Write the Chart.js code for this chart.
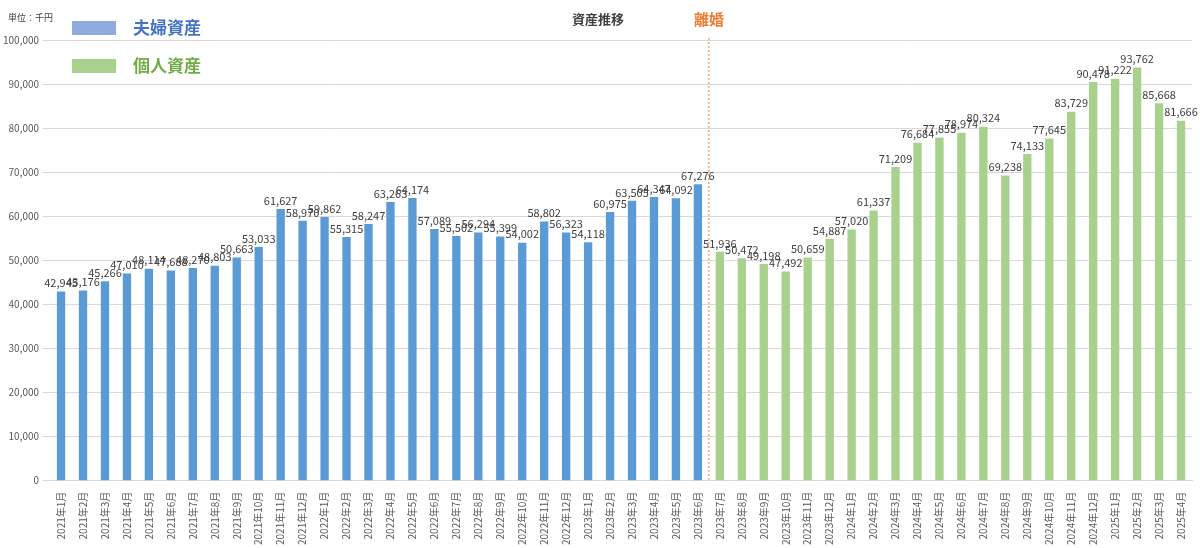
<!DOCTYPE html>
<html><head><meta charset="utf-8">
<script src="https://cdn.jsdelivr.net/npm/chart.js@4"></script>
<style>html,body{margin:0;background:#fff}#w{width:1200px;height:548px}</style>
</head><body><div id="w"><canvas id="c"></canvas></div>
<script>
const categories = [];
for (let y = 2021; y <= 2025; y++) for (let m = 1; m <= 12; m++) { if (y === 2025 && m > 4) break; categories.push(y + '年' + m + '月'); }
const coupleAssets = [42945,43176,45266,47010,48114,47688,48270,48803,50663,53033,61627,58970,59862,55315,58247,63263,64174,57089,55502,56294,55399,54002,58802,56323,54118,60975,63505,64347,64092,67276];
const personalAssets = [51936,50472,49198,47492,50659,54887,57020,61337,71209,76684,77855,78974,80324,69238,74133,77645,83729,90478,91222,93762,85668,81666];
const yTicks = [0,10000,20000,30000,40000,50000,60000,70000,80000,90000,100000];
const seriesNames = ['夫婦資産','個人資産'];
const colors = ['#5b9bd5','#a9d18e'];
const nCouple = coupleAssets.length;
const d1 = categories.map((_, i) => i < nCouple ? coupleAssets[i] : null);
const d2 = categories.map((_, i) => i >= nCouple ? personalAssets[i - nCouple] : null);
const font = "'Noto Sans CJK JP', 'Noto Sans', sans-serif";
const deco = {
  id: 'deco',
  afterDatasetsDraw(ch) {
    const c = ch.ctx, xs = ch.scales.x, a = ch.chartArea;
    c.save();
    c.font = '11px ' + font; c.fillStyle = '#404040'; c.textAlign = 'center'; c.textBaseline = 'bottom';
    ch.data.datasets.forEach((ds, di) => {
      ch.getDatasetMeta(di).data.forEach((el, i) => {
        const v = ds.data[i]; if (v == null) return;
        c.fillText(v.toLocaleString('en-US'), el.x, el.y - 3);
      });
    });
    const xd = (xs.getPixelForValue(nCouple - 1) + xs.getPixelForValue(nCouple)) / 2;
    c.strokeStyle = '#ed7d31'; c.setLineDash([2, 2]); c.lineWidth = 1;
    c.beginPath(); c.moveTo(xd, 38); c.lineTo(xd, a.bottom); c.stroke(); c.setLineDash([]);
    c.font = 'bold 15px ' + font; c.textBaseline = 'middle';
    c.fillStyle = '#ed7d31'; c.fillText('離婚', xd, 19);
    c.fillStyle = '#404040'; c.font = 'bold 13px ' + font; c.fillText('資産推移', 598, 19);
    c.font = '9px ' + font; c.textAlign = 'left'; c.fillStyle = '#404040'; c.fillText('単位：千円', 8, 18);
    [[seriesNames[0], colors[0], '#4472c4', 28], [seriesNames[1], colors[1], '#70ad47', 66]].forEach(([t, f, tc, y]) => {
      c.fillStyle = f === colors[0] ? '#8faadc' : f; c.fillRect(72, y - 7, 44, 14);
      c.fillStyle = tc; c.font = 'bold 17px ' + font; c.fillText(t, 133, y);
    });
    c.restore();
  }
};
new Chart(document.getElementById('c'), {
  type: 'bar',
  data: { labels: categories, datasets: [
    { label: seriesNames[0], data: d1, backgroundColor: colors[0] },
    { label: seriesNames[1], data: d2, backgroundColor: colors[1] }
  ]},
  options: {
    responsive: true, maintainAspectRatio: false, animation: false,
    layout: { padding: { top: 40, right: 8, left: 0, bottom: 0 } },
    datasets: { bar: { barPercentage: 0.38, categoryPercentage: 1 } },
    plugins: { legend: { display: false }, tooltip: { enabled: false } },
    scales: {
      x: { stacked: true, grid: { display: false }, border: { color: '#d9d9d9' },
        ticks: { autoSkip: false, maxRotation: 90, minRotation: 90, color: '#595959', font: { size: 10, family: font } } },
      y: { stacked: true, min: 0, max: 100000, afterBuildTicks: s => { s.ticks = yTicks.map(v => ({ value: v })); },
        grid: { color: '#d9d9d9' }, border: { display: false },
        ticks: { color: '#595959', font: { size: 10, family: font }, callback: v => v.toLocaleString('en-US') } }
    }
  },
  plugins: [deco]
});
</script></body></html>
